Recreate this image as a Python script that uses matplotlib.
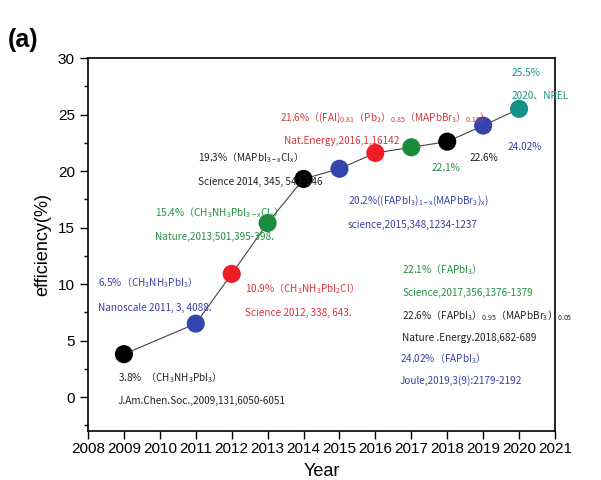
import matplotlib
matplotlib.use("Agg")
import matplotlib.pyplot as plt
from matplotlib.ticker import MultipleLocator

years = [2009, 2011, 2012, 2013, 2014, 2015, 2016, 2017, 2018, 2019, 2020]
efficiency = [3.8, 6.5, 10.9, 15.4, 19.3, 20.2, 21.6, 22.1, 22.6, 24.02, 25.5]
point_colors = ["#000000", "#3446ae", "#ee1c25", "#1a8c3c", "#000000", "#3446ae",
                "#ee1c25", "#1a8c3c", "#000000", "#3446ae", "#16918a"]

BLUE = "#3a3fa6"
RED = "#d8353b"
GREEN = "#23903f"
BLACK = "#222222"
TEAL = "#1f938a"

# (text, colour, x_px, y_px)
notes = [
    (r"6.5%（CH$_3$NH$_3$PbI$_3$）", BLUE, 98, 283),
    (r"Nanoscale 2011, 3, 4088.", BLUE, 98, 308),
    (r"15.4%（CH$_3$NH$_3$PbI$_{3-x}$Cl$_x$）", GREEN, 155, 213),
    (r"Nature,2013,501,395-398.", GREEN, 155, 237),
    (r"19.3%（MAPbI$_{3-x}$Cl$_x$）", BLACK, 198, 158),
    (r"Science 2014, 345, 542-546", BLACK, 198, 182),
    (r"10.9%（CH$_3$NH$_3$PbI$_2$Cl）", RED, 245, 289),
    (r"Science 2012, 338, 643.", RED, 245, 313),
    (r"3.8%  （CH$_3$NH$_3$PbI$_3$）", BLACK, 118, 378),
    (r"J.Am.Chen.Soc.,2009,131,6050-6051", BLACK, 118, 401),
    (r"20.2%((FAPbI$_3$)$_{1-x}$(MAPbBr$_3$)$_x$)", BLUE, 348, 201),
    (r"science,2015,348,1234-1237", BLUE, 348, 225),
    (r"21.6%（(FAI)$_{0.81}$（Pb$_2$）$_{0.85}$（MAPbBr$_3$）$_{0.15}$）", RED, 280, 118),
    (r"Nat.Energy,2016,1,16142", RED, 284, 141),
    (r"22.1%", GREEN, 432, 168),
    (r"22.6%", BLACK, 470, 158),
    (r"24.02%", BLUE, 508, 147),
    (r"25.5%", TEAL, 512, 73),
    (r"2020、NREL", TEAL, 512, 95),
    (r"22.1%（FAPbI$_3$）", GREEN, 402, 270),
    (r"Science,2017,356,1376-1379", GREEN, 402, 293),
    (r"22.6%（FAPbI$_3$）$_{0.95}$（MAPbBr$_3$）$_{0.05}$", BLACK, 402, 316),
    (r"Nature .Energy.2018,682-689", BLACK, 402, 338),
    (r"24.02%（FAPbI$_3$）", BLUE, 400, 359),
    (r"Joule,2019,3(9):2179-2192", BLUE, 400, 381),
]

plt.rcParams["font.family"] = ["Liberation Sans", "DejaVu Sans"]
plt.rcParams["mathtext.default"] = "regular"

W, H = 601, 480
fig = plt.figure(figsize=(W / 100, H / 100), dpi=100)
ax = fig.add_axes([88 / W, 1 - 431 / H, (555 - 88) / W, (431 - 58) / H])


def px(x, y):
    return x / W, 1 - y / H


ax.plot(years, efficiency, "-", color="#444444", lw=0.8, zorder=2)
ax.scatter(years, efficiency, s=170, c=point_colors, zorder=3, linewidths=0)

ax.set_xlim(2008, 2021)
ax.set_ylim(-3, 30)
ax.set_xticks(range(2008, 2022))
ax.set_yticks(range(0, 31, 5))
ax.yaxis.set_minor_locator(MultipleLocator(2.5))
ax.tick_params(axis="both", which="major", direction="out", length=6, width=1,
               labelsize=11, top=False, right=False)
ax.tick_params(axis="y", which="minor", length=3, width=1, right=False)
ax.tick_params(axis="x", pad=2)
for sp in ax.spines.values():
    sp.set_linewidth(1.2)

ax.set_xlabel("Year", fontsize=13, labelpad=5)
ax.set_ylabel("efficiency(%)", fontsize=13, labelpad=5)

for txt, col, x, y in notes:
    fig.text(*px(x, y), txt, color=col, fontsize=7.2, ha="left", va="center",
             family="Noto Sans CJK SC")

fig.text(*px(8, 40), "(a)", fontsize=18, fontweight="bold", ha="left", va="center")

fig.savefig("out.png", dpi=100)
